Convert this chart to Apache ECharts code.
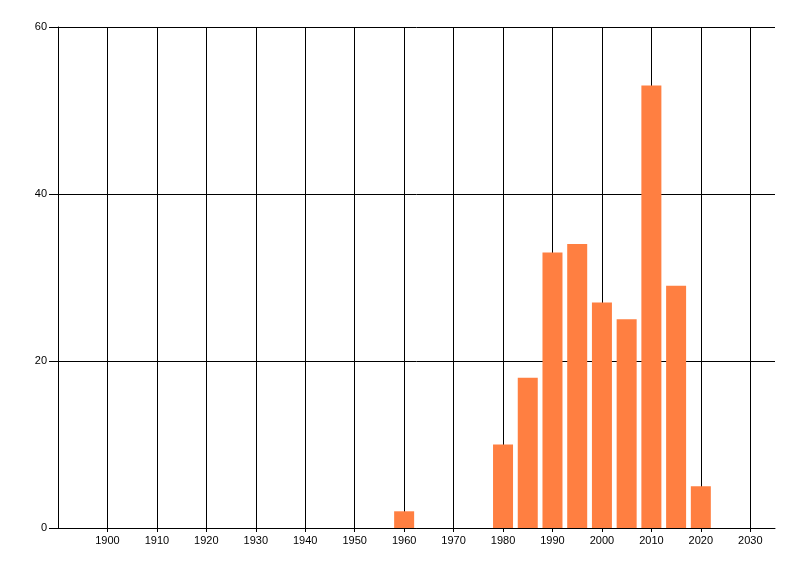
<!DOCTYPE html>
<html>
<head>
<meta charset="utf-8">
<script src="https://cdn.jsdelivr.net/npm/echarts@6/dist/echarts.min.js"></script>
<style>html,body{margin:0;padding:0;background:#fff;}#c{width:800px;height:576px;}</style>
</head>
<body>
<div id="c"></div>
<script>
const years = [1960, 1980, 1985, 1990, 1995, 2000, 2005, 2010, 2015, 2020];
const counts = [2, 10, 18, 33, 34, 27, 25, 53, 29, 5];
const xTicks = [1900, 1910, 1920, 1930, 1940, 1950, 1960, 1970, 1980, 1990, 2000, 2010, 2020, 2030];
const yTicks = [0, 20, 40, 60];

const chart = echarts.init(document.getElementById('c'));
chart.setOption({
  animation: false,
  grid: { left: 58, right: 25, top: 27, bottom: 48 },
  xAxis: {
    type: 'value', min: 1890, max: 2035, interval: 10,
    axisLine: { show: true, onZero: false, lineStyle: { color: '#000', width: 1 } },
    axisTick: { show: true, length: 4, lineStyle: { color: '#000' }, customValues: xTicks },
    axisLabel: { color: '#000', fontFamily: 'Liberation Sans', fontSize: 11, margin: 7,
      customValues: xTicks, formatter: v => String(v) },
    splitLine: { show: true, lineStyle: { color: '#000', width: 1 } },
    showMinLabel: false, showMaxLabel: false
  },
  yAxis: {
    type: 'value', min: 0, max: 60, interval: 20,
    axisLine: { show: true, lineStyle: { color: '#000', width: 1 } },
    axisTick: { show: true, length: 9, lineStyle: { color: '#000' } },
    axisLabel: { color: '#000', fontFamily: 'Liberation Sans', fontSize: 11, margin: 11 },
    splitLine: { show: true, lineStyle: { color: '#000', width: 1 } }
  },
  series: [{
    type: 'bar',
    data: years.map((y, i) => [y, counts[i]]),
    barWidth: 20,
    itemStyle: { color: '#FF7F41' }
  }]
});
</script>
</body>
</html>
